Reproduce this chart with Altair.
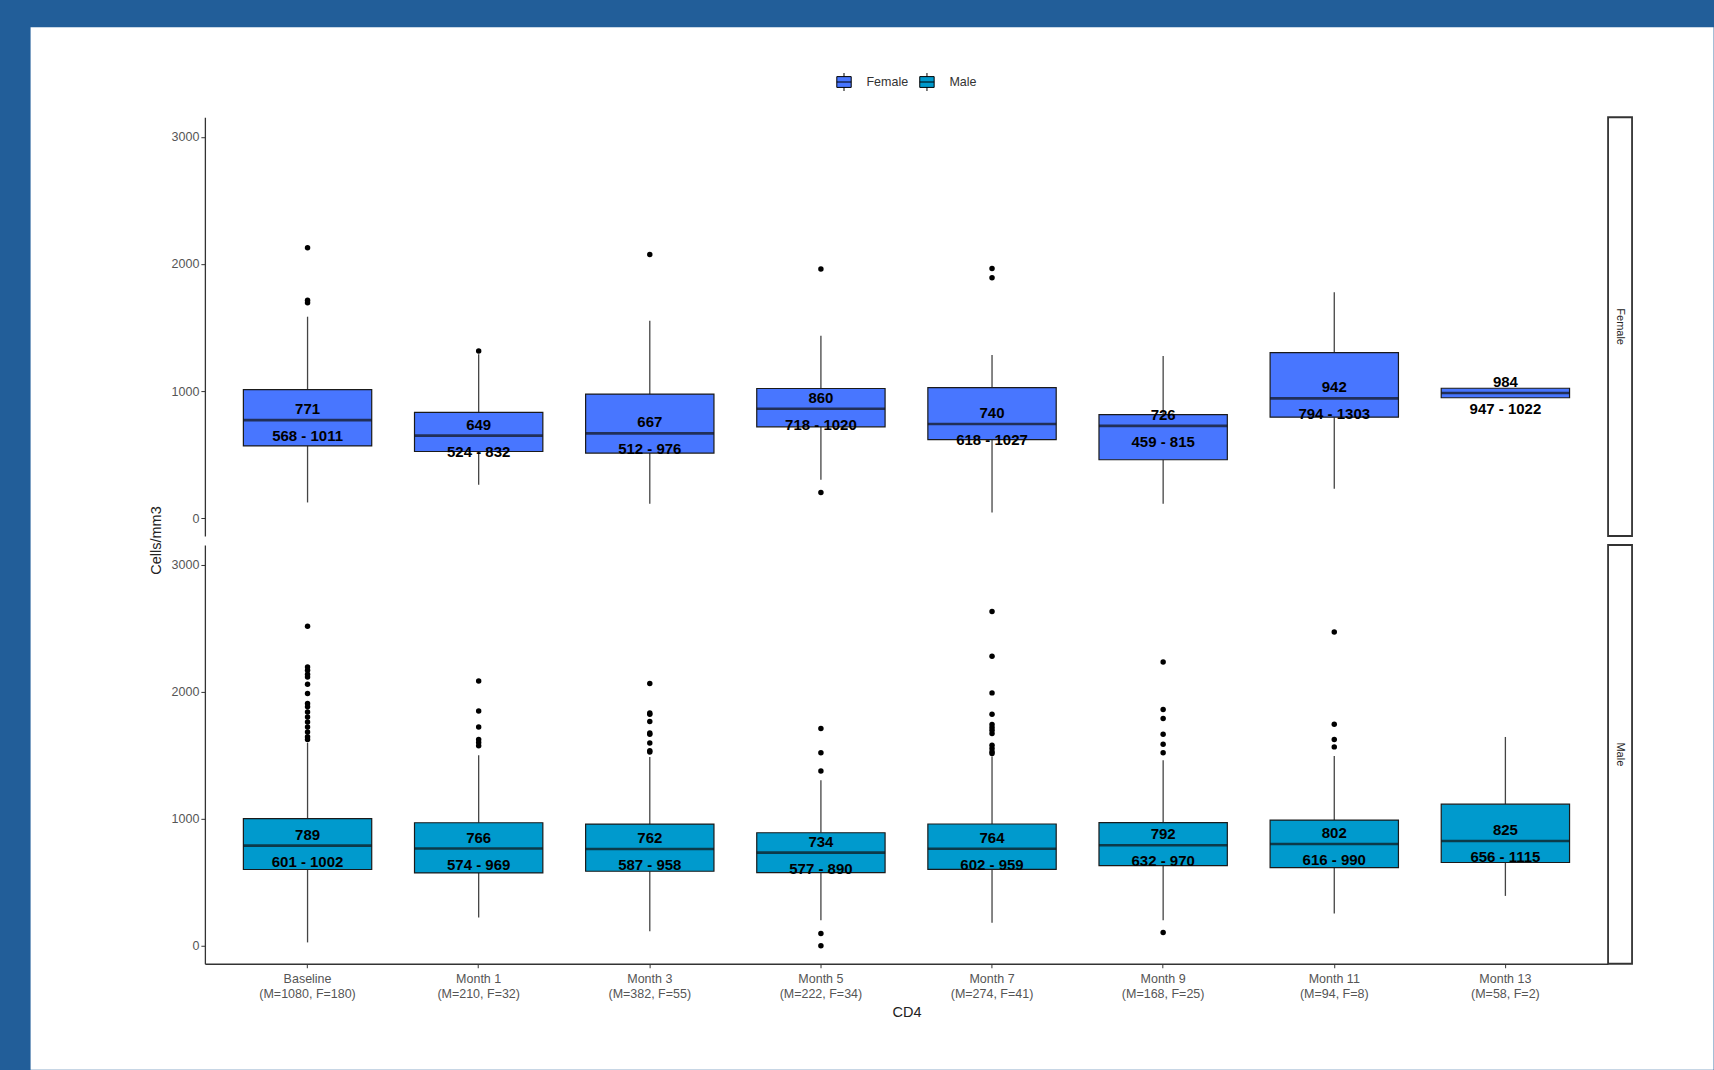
import altair as alt
import pandas as pd

# ---------------- data ----------------
months = ["Baseline", "Month 1", "Month 3", "Month 5", "Month 7", "Month 9", "Month 11", "Month 13"]
counts = ["(M=1080, F=180)", "(M=210, F=32)", "(M=382, F=55)", "(M=222, F=34)",
          "(M=274, F=41)", "(M=168, F=25)", "(M=94, F=8)", "(M=58, F=2)"]
sexes = ["Female", "Male"]
fill_colors = ["#4876FF", "#009ACD"]

female_median = [771, 649, 667, 860, 740, 726, 942, 984]
female_q1 = [568, 524, 512, 718, 618, 459, 794, 947]
female_q3 = [1011, 832, 976, 1020, 1027, 815, 1303, 1022]
female_low = [123, 262, 112, 301, 44, 112, 230, 947]
female_high = [1585, 1290, 1554, 1436, 1284, 1276, 1777, 1022]
female_outliers = [[2128, 1715, 1695], [1315], [2075], [1960, 201], [1965, 1892], [], [], []]

male_median = [789, 766, 762, 734, 764, 792, 802, 825]
male_q1 = [601, 574, 587, 577, 602, 632, 616, 656]
male_q3 = [1002, 969, 958, 890, 959, 970, 990, 1115]
male_low = [27, 223, 115, 202, 181, 202, 255, 393]
male_high = [1600, 1500, 1487, 1304, 1490, 1461, 1495, 1644]
male_outliers = [
    [2515, 2195, 2169, 2138, 2116, 2059, 1986, 1907, 1881, 1841, 1802, 1762, 1723, 1684, 1645, 1625],
    [2085, 1849, 1723, 1625, 1600, 1575],
    [2064, 1833, 1822, 1765, 1676, 1665, 1597, 1535, 1525],
    [1711, 1519, 1377, 97, 0],
    [2631, 2279, 1991, 1823, 1742, 1718, 1697, 1671, 1579, 1553, 1527, 1513],
    [2234, 1860, 1789, 1666, 1587, 1519, 105],
    [2470, 1744, 1624, 1566],
    [],
]

y_ticks = [0, 1000, 2000, 3000]
y_domain = [-141, 3155]

# ---------------- tables ----------------
cats = [f"{m}\n{c}" for m, c in zip(months, counts)]

box_rows = []
out_rows = []
for sex, q1s, meds, q3s, lows, highs, outs in [
    ("Female", female_q1, female_median, female_q3, female_low, female_high, female_outliers),
    ("Male", male_q1, male_median, male_q3, male_low, male_high, male_outliers),
]:
    for i, cat in enumerate(cats):
        box_rows.append(dict(cat=cat, sex=sex, q1=q1s[i], med=meds[i], q3=q3s[i],
                             lo=lows[i], hi=highs[i], med_txt=str(meds[i]),
                             iqr_txt=f"{q1s[i]} - {q3s[i]}"))
        for v in outs[i]:
            out_rows.append(dict(cat=cat, sex=sex, value=v))
box_df = pd.DataFrame(box_rows)
out_df = pd.DataFrame(out_rows)

# ---------------- layout constants ----------------
PLOT_W = 1404
PANEL_H = 419
GAP = 9
STRIP_W = 24
STEP = PLOT_W / 8.2
BOX_W = 0.75 * STEP
FONT = "Liberation Sans"

legend_path = "M-0.8,-0.6H0.8V0.6H-0.8Z M-0.8,0H0.8 M0,-0.6V-1 M0,0.6V1"
legend = alt.Legend(orient="none", legendX=630, legendY=-45, direction="horizontal",
                    title=None, symbolType=legend_path, symbolSize=324,
                    symbolStrokeColor="black", symbolStrokeWidth=1,
                    labelFontSize=12.5, labelColor="#333333", labelFont=FONT,
                    labelOffset=13, columnPadding=9, padding=0)


def panel(sex, show_x, y_title):
    bdf = box_df[box_df.sex == sex]
    odf = out_df[out_df.sex == sex]
    x_axis = alt.Axis(labelExpr="split(datum.label, '\\n')", labelAngle=0,
                      labelFontSize=12.5, labelColor="#555555", labelLineHeight=14.5,
                      labelPadding=5, tickSize=4, tickColor="#333333",
                      domainColor="#333333", domainWidth=1.3,
                      title="CD4", titleFontSize=14.5, titleFontWeight="normal",
                      titleColor="#222222", titlePadding=6, zindex=1) if show_x else None
    xenc = alt.X("cat:N", sort=cats,
                 scale=alt.Scale(paddingInner=0.25, paddingOuter=0.225),
                 axis=x_axis)
    y_axis_kw = dict(values=y_ticks, format="d", labelFontSize=12.5, labelColor="#555555",
                     tickSize=4, tickColor="#333333", labelPadding=2,
                     domainColor="#333333", domainWidth=1.3, zindex=1)
    if y_title:
        y_axis = alt.Axis(title=y_title, titleFontSize=14.5, titleFontWeight="normal",
                          titleColor="#222222", titleX=-41, titleY=-5, **y_axis_kw)
    else:
        y_axis = alt.Axis(title=None, **y_axis_kw)
    ysc = alt.Scale(domain=y_domain, nice=False, zero=False)

    base = alt.Chart(bdf)
    w_lo = base.mark_rule(color="#444444", strokeWidth=1.3).encode(
        x=xenc, y=alt.Y("lo:Q", scale=ysc, axis=y_axis), y2="q1:Q")
    w_hi = base.mark_rule(color="#444444", strokeWidth=1.3).encode(
        x=xenc, y=alt.Y("q3:Q", scale=ysc, axis=y_axis), y2="hi:Q")
    box = base.mark_bar(stroke="#1a1a1a", strokeWidth=1.2).encode(
        x=xenc, y=alt.Y("q1:Q", scale=ysc, axis=y_axis), y2="q3:Q",
        fill=alt.Fill("sex:N", scale=alt.Scale(domain=sexes, range=fill_colors), legend=legend))
    med = base.mark_tick(color="#111111", thickness=2.6, size=BOX_W).encode(
        x=xenc, y=alt.Y("med:Q", scale=ysc, axis=y_axis))
    pts = alt.Chart(odf).mark_circle(color="black", size=30, opacity=1).encode(
        x=xenc, y=alt.Y("value:Q", scale=ysc, axis=y_axis))
    t_med = base.mark_text(font=FONT, fontSize=15, fontWeight="bold", color="black",
                           dy=-11, baseline="middle").encode(
        x=xenc, y=alt.Y("med:Q", scale=ysc, axis=y_axis), text="med_txt:N")
    t_iqr = base.mark_text(font=FONT, fontSize=15, fontWeight="bold", color="black",
                           dy=16, baseline="middle").encode(
        x=xenc, y=alt.Y("med:Q", scale=ysc, axis=y_axis), text="iqr_txt:N")
    layers = [w_lo, w_hi, box, med, pts, t_med, t_iqr]
    return layers


def strip(label):
    return alt.Chart(pd.DataFrame({"label": [label]})).mark_text(
        angle=90, font=FONT, fontSize=11, color="#222222").encode(
        text="label:N").properties(
        width=STRIP_W, height=PANEL_H,
        view=alt.ViewBackground(stroke="#333333", strokeWidth=1.8, fill="white"))


# white page area behind the figure (the blue frame of the screenshot is the background)
page = alt.Chart(pd.DataFrame({"k": [0]})).mark_rect(fill="white").encode(
    x=alt.value(-174.4), x2=alt.value(1509.6), y=alt.value(-90), y2=alt.value(953))

female = alt.layer(page, *panel("Female", False, None)).properties(width=PLOT_W, height=PANEL_H)
male = alt.layer(*panel("Male", True, "Cells/mm3")).properties(width=PLOT_W, height=PANEL_H)

chart = alt.concat(
    female, strip("Female"), male, strip("Male"),
    columns=2, spacing={"row": GAP, "column": 0}, bounds="flush",
).resolve_scale(fill="shared").properties(
    background="#225E99",
    padding={"left": 30, "top": 27, "right": 0, "bottom": 0},
).configure_view(strokeWidth=0).configure_axis(
    grid=False, labelFont=FONT, titleFont=FONT
)

chart.save("out.html", embed_options={"renderer": "svg", "actions": False})
